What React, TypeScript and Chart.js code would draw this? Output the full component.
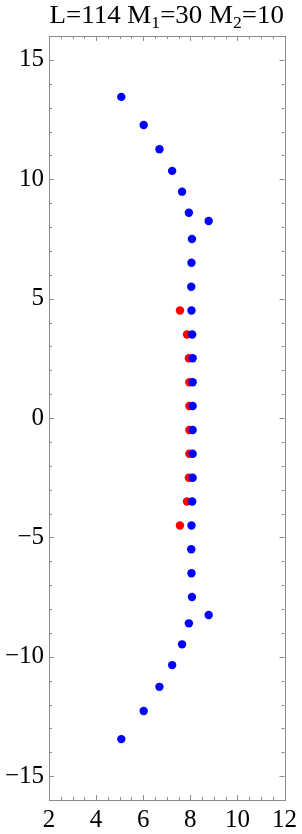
import React, { useEffect, useRef } from "react";
import { Chart, registerables } from "chart.js";

Chart.register(...registerables);

const titleParts = [
  { text: "L=114 M", sub: false },
  { text: "1", sub: true },
  { text: "=30 M", sub: false },
  { text: "2", sub: true },
  { text: "=10", sub: false },
];

const blueX = [5.07, 6.02, 6.69, 7.23, 7.65, 7.94, 8.78, 8.07, 8.05, 8.04, 8.05, 8.08, 8.1, 8.1, 8.1,
  8.1, 8.1, 8.1, 8.08, 8.05, 8.04, 8.05, 8.07, 8.78, 7.94, 7.65, 7.23, 6.69, 6.02, 5.07];
const blueY = [13.45, 12.27, 11.26, 10.35, 9.48, 8.6, 8.25, 7.5, 6.5, 5.5, 4.5, 3.5, 2.5, 1.5, 0.5,
  -0.5, -1.5, -2.5, -3.5, -4.5, -5.5, -6.5, -7.5, -8.25, -8.6, -9.48, -10.35, -11.26, -12.27, -13.45];

const redX = [7.56, 7.86, 7.94, 7.96, 7.96, 7.96, 7.96, 7.94, 7.86, 7.56];
const redY = [4.5, 3.5, 2.5, 1.5, 0.5, -0.5, -1.5, -2.5, -3.5, -4.5];

const xTicks = [2, 4, 6, 8, 10, 12];
const yTicks = [-15, -10, -5, 0, 5, 10, 15];
const xMin = 2, xMax = 12, yMin = -16, yMax = 16;

const FONT = '"Liberation Serif", "Times New Roman", serif';
const FRAME = "#8c8c8c";

const framePlugin = {
  id: "frameTicks",
  beforeDatasetsDraw(chart: any) {
    const { ctx, chartArea: a, scales } = chart;
    const xs = scales.x, ys = scales.y;
    ctx.save();
    ctx.strokeStyle = FRAME;
    ctx.lineWidth = 1;
    ctx.strokeRect(Math.round(a.left) + 0.5, Math.round(a.top) + 0.5,
      Math.round(a.right - a.left), Math.round(a.bottom - a.top));
    ctx.beginPath();
    for (let v = xMin; v <= xMax + 1e-9; v += 0.5) {
      const px = Math.round(xs.getPixelForValue(v)) + 0.5;
      const len = Math.abs(v / 2 - Math.round(v / 2)) < 1e-9 ? 5 : 3;
      ctx.moveTo(px, a.bottom); ctx.lineTo(px, a.bottom - len);
      ctx.moveTo(px, a.top); ctx.lineTo(px, a.top + len);
    }
    for (let v = yMin; v <= yMax + 1e-9; v += 1) {
      const py = Math.round(ys.getPixelForValue(v)) + 0.5;
      const len = v % 5 === 0 ? 5 : 3;
      ctx.moveTo(a.left, py); ctx.lineTo(a.left + len, py);
      ctx.moveTo(a.right, py); ctx.lineTo(a.right - len, py);
    }
    ctx.stroke();
    ctx.restore();
  },
  afterDraw(chart: any) {
    const { ctx, chartArea: a } = chart;
    ctx.save();
    ctx.fillStyle = "#000";
    ctx.textBaseline = "alphabetic";
    const big = `26px ${FONT}`, small = `17px ${FONT}`;
    let total = 0;
    for (const p of titleParts) {
      ctx.font = p.sub ? small : big;
      total += ctx.measureText(p.text).width;
    }
    const target = a.right - a.left - 1;
    const sx = target / total;
    const x0 = (a.left + a.right) / 2 - target / 2;
    ctx.translate(x0, 0);
    ctx.scale(sx, 1);
    let x = 0;
    const base = 23;
    for (const p of titleParts) {
      ctx.font = p.sub ? small : big;
      ctx.fillText(p.text, x, p.sub ? base + 5 : base);
      x += ctx.measureText(p.text).width;
    }
    ctx.restore();
  },
};

export default function App() {
  const ref = useRef<HTMLCanvasElement>(null);
  useEffect(() => {
    if (!ref.current) return;
    const chart = new Chart(ref.current, {
      type: "scatter",
      data: {
        datasets: [
          {
            data: blueX.map((x, i) => ({ x, y: blueY[i] })),
            backgroundColor: "#0000ff",
            pointRadius: 4.2,
            pointBorderWidth: 0,
            borderWidth: 0,
          },
          {
            data: redX.map((x, i) => ({ x, y: redY[i] })),
            backgroundColor: "#ff0000",
            pointRadius: 4.2,
            pointBorderWidth: 0,
            borderWidth: 0,
          },
        ],
      },
      options: {
        animation: false,
        responsive: false,
        layout: { padding: { top: 36, right: 14, left: 0, bottom: 0 } },
        plugins: { legend: { display: false }, tooltip: { enabled: false }, title: { display: false } },
        scales: {
          x: {
            type: "linear",
            min: xMin,
            max: xMax,
            afterBuildTicks: (s: any) => { s.ticks = xTicks.map((v) => ({ value: v })); },
            afterFit: (s: any) => { s.height = 34; },
            grid: { display: false, drawTicks: false },
            border: { display: false },
            ticks: {
              color: "#000",
              font: { family: FONT, size: 25 },
              padding: 5,
              maxRotation: 0,
              autoSkip: false,
              callback: (v: any) => String(v),
            },
          },
          y: {
            type: "linear",
            min: yMin,
            max: yMax,
            afterBuildTicks: (s: any) => { s.ticks = yTicks.map((v) => ({ value: v })); },
            afterFit: (s: any) => { s.width = 49; },
            grid: { display: false, drawTicks: false },
            border: { display: false },
            ticks: {
              color: "#000",
              font: { family: FONT, size: 25 },
              padding: 5,
              autoSkip: false,
              callback: (v: any) => (v < 0 ? "\u2212" + Math.abs(v) : String(v)),
            },
          },
        },
      },
      plugins: [framePlugin],
    });
    return () => chart.destroy();
  }, []);
  return (
    <div style={{ position: "absolute", left: 0, top: 0, width: 302, height: 834, background: "#fff" }}>
      <canvas ref={ref} width={302} height={834} style={{ display: "block" }} />
    </div>
  );
}
